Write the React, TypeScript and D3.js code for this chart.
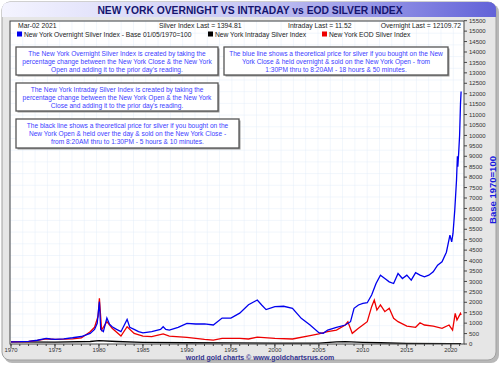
import React from "react";
import * as d3 from "d3";

const overnightYears = [1970,1971,1972,1973,1974,1974.5,1975,1976,1977,1978,1979,1979.5,1979.8,1980.05,1980.2,1980.5,1980.9,1981.2,1981.5,1982,1982.5,1983.2,1983.5,1984,1984.5,1985,1986,1987,1987.3,1987.6,1988,1989,1990,1991,1992,1993,1994,1995,1996,1997,1998,1998.5,1999,2000,2001,2002,2003,2004,2005,2005.5,2006,2007,2008,2008.6,2009,2009.5,2010,2010.5,2011,2011.5,2012,2012.5,2013,2013.5,2014,2014.5,2015,2015.5,2016,2016.5,2017,2017.5,2018,2018.5,2019,2019.5,2019.9,2020.1,2020.25,2020.45,2020.65,2020.75,2020.8,2020.9,2021.0,2021.1,2021.17];
const overnightValues = [100,110,130,180,270,240,225,250,300,360,510,700,990,2030,700,590,1245,950,830,700,590,1180,800,700,590,532,590,700,830,700,670,800,990,960,960,910,1245,1245,1480,1880,2110,1870,1650,1790,1810,1710,1230,910,540,510,670,800,910,1070,1710,1870,1950,1980,2350,2900,3300,3140,2980,2900,3380,3140,3300,3060,3420,3300,3220,3300,3460,3780,3940,4400,5220,4900,5300,6420,7860,9000,8500,9200,10000,11500,12110];

const eodYears = [1970,1971,1972,1973,1974,1975,1976,1977,1978,1979,1979.5,1979.9,1980.05,1980.3,1980.9,1981.5,1982.5,1983.2,1984,1985,1986,1987.3,1988,1990,1992,1993,1994,1996,1997,1998,2000,2002,2004,2005,2006,2007,2008,2008.3,2008.8,2009.5,2010,2010.5,2011,2011.3,2011.6,2012,2012.5,2013,2013.5,2014,2015,2016,2016.5,2017,2018,2019,2019.8,2020.2,2020.5,2020.7,2021.1,2021.17];
const eodValues = [100,110,120,170,250,225,230,250,290,590,800,1330,2190,670,1070,750,380,830,510,380,350,480,380,320,225,190,270,270,240,330,270,240,400,480,590,670,910,1070,510,750,910,1070,1790,2110,1630,1870,1550,1710,1230,1070,860,800,1020,910,860,750,910,670,1470,1150,1470,1395];

const intradayYears = [1970,1975,1979,1980,1982,1985,1990,1995,2000,2005,2007,2008,2010,2012,2015,2020,2021.17];
const intradayValues = [100,90,120,160,120,80,60,50,40,40,100,110,80,60,30,15,11.52];

const yTicks = d3.range(0, 15501, 500);
const xLabelYears = [1970,1975,1980,1985,1990,1995,2000,2005,2010,2015,2020];
const xMinorYears = d3.range(1970, 2022, 1);

const titleText = "NEW YORK OVERNIGHT VS INTRADAY vs EOD SILVER INDEX";
const dateText = "Mar-02  2021";
const silverLast = "Silver Index Last = 1394.81";
const intradayLast = "Intraday Last = 11.52";
const overnightLast = "Overnight Last = 12109.72";
const legendLabels = ["New York Overnight Silver Index - Base 01/05/1970=100", "New York Intraday Silver Index", "New York EOD Silver Index"];
const legendColors = ["#0000ee", "#000000", "#ee0000"];

const box1 = ["The New York Overnight Silver Index is created by taking the", "percentage change between the New York Close & the New York", "Open and adding it to the prior day's reading."];
const box2 = ["The New York Intraday Silver Index is created by taking the", "percentage change between the New York Open & the New York", "Close and adding it to the prior day's reading."];
const box3 = ["The black line shows a theoretical price for silver if you bought on the", "New York Open & held over the day & sold on the New York Close -", "from 8:20AM thru to 1:30PM - 5 hours & 10 minutes."];
const box4 = ["The blue line shows a theoretical price for silver if you bought on the New", "York Close & held overnight & sold on the New York Open - from", "1:30PM thru to 8:20AM - 18 hours & 50 minutes."];

export default function App() {
  const W = 500, H = 365;
  const L = 10, R = 464, T = 21, B = 344;
  const x = d3.scaleLinear().domain([1970, 2021.5]).range([11, R]);
  const y = d3.scaleLinear().domain([0, 15500]).range([B, 20.7]);
  const mk = (xs: number[], vs: number[]) =>
    d3.line<number>().x((_, i) => x(xs[i])).y((v) => y(v))(vs) || "";
  const font = "Arial, 'Liberation Sans', sans-serif";

  const TextBox = ({ x0, y0, w, h, lines }: { x0: number; y0: number; w: number; h: number; lines: string[] }) => (
    <g>
      <rect x={x0 + 1.5} y={y0 + 1.5} width={w} height={h} fill="#9a9a9a" />
      <rect x={x0} y={y0} width={w} height={h} fill="#ffffff" stroke="#555" strokeWidth={1.3} />
      {lines.map((t, i) => (
        <text key={i} x={x0 + w / 2} y={y0 + 9.3 + i * 7.7} textAnchor="middle" fontSize={6.6} fill="#4040ff" fontFamily={font}>{t}</text>
      ))}
    </g>
  );

  return (
    <svg width={W} height={H} style={{ position: "absolute", left: 0, top: 0 }} fontFamily={font}>
      <defs>
        <linearGradient id="tg" x1="0" x2="1" y1="0" y2="0">
          <stop offset="0" stopColor="#f4f4ff" />
          <stop offset="0.5" stopColor="#c8c8f4" />
          <stop offset="1" stopColor="#6262d8" />
        </linearGradient>
        <pattern id="grid" width="12.3" height="11.7" patternUnits="userSpaceOnUse" x={L} y={T}>
          <path d="M 12.3 0 L 0 0 0 11.7" fill="none" stroke="#dde9f6" strokeWidth={0.8} />
        </pattern>
        <clipPath id="pc"><rect x={L} y={T} width={R - L} height={B - T} /></clipPath>
      </defs>
      <rect x={0} y={0} width={W} height={H} fill="#ffffff" />
      <rect x={4} y={4} width={495} height={359} rx={8} fill="#b8b8b8" />
      <rect x={2} y={2} width={494} height={358} rx={8} fill="#e6e6e6" stroke="#a0a0a0" strokeWidth={1} />
      <path d="M 2 17 L 2 10 Q 2 2 10 2 L 488 2 Q 496 2 496 10 L 496 17 Z" fill="url(#tg)" />
      <text x={250} y={14} textAnchor="middle" fontSize={10.3} fontWeight="bold" fill="#14146e">{titleText}</text>

      <rect x={L} y={T} width={R - L} height={B - T} fill="#ffffff" />
      <rect x={L} y={T} width={R - L} height={B - T} fill="url(#grid)" />

      <g clipPath="url(#pc)">
        <path d={mk(intradayYears, intradayValues)} fill="none" stroke="#000" strokeWidth={1.3} />
        <path d={mk(eodYears, eodValues)} fill="none" stroke="#ee0000" strokeWidth={1.3} />
        <path d={mk(overnightYears, overnightValues)} fill="none" stroke="#0000ee" strokeWidth={1.3} />
      </g>
      <rect x={L} y={T} width={R - L} height={B - T} fill="none" stroke="#444" strokeWidth={1} />

      <text x={18} y={27.5} fontSize={6.8} fill="#222">{dateText}</text>
      <text x={159} y={27.5} fontSize={6.8} fill="#222">{silverLast}</text>
      <text x={288} y={27.5} fontSize={6.8} fill="#222">{intradayLast}</text>
      <text x={461} y={27.5} fontSize={6.8} fill="#222" textAnchor="end">{overnightLast}</text>

      {[17, 208, 322].map((lx, i) => (
        <g key={i}>
          <rect x={lx} y={31.5} width={5} height={5} fill={legendColors[i]} />
          <text x={lx + 7} y={36.6} fontSize={6.7} fill="#222">{legendLabels[i]}</text>
        </g>
      ))}

      <TextBox x0={16} y0={47} w={202} h={28} lines={box1} />
      <TextBox x0={16} y0={83} w={202} h={28} lines={box2} />
      <TextBox x0={16} y0={119} w={223} h={29} lines={box3} />
      <TextBox x0={224} y0={47} w={224} h={28} lines={box4} />

      {yTicks.map((v) => (
        <g key={v}>
          <line x1={R} x2={R + 3} y1={y(v)} y2={y(v)} stroke="#444" />
          <text x={R + 5} y={y(v) + 2.2} fontSize={6} fill="#333">{v}</text>
        </g>
      ))}
      {xMinorYears.map((yr) => (
        <line key={yr} x1={x(yr)} x2={x(yr)} y1={B} y2={B + 2} stroke="#444" />
      ))}
      {xLabelYears.map((yr) => (
        <g key={yr}>
          <line x1={x(yr)} x2={x(yr)} y1={B} y2={B + 4} stroke="#444" />
          <text x={x(yr)} y={351.5} textAnchor="middle" fontSize={5.9} fill="#333">{yr}</text>
        </g>
      ))}
      <text transform="translate(496,190) rotate(-90)" textAnchor="middle" fontSize={9.5} fontWeight="bold" fill="#1a1ae0">Base 1970=100</text>
      <text x={260} y={359.5} textAnchor="middle" fontSize={7} fontWeight="bold" fill="#33338f">world gold charts © www.goldchartsrus.com</text>
    </svg>
  );
}
